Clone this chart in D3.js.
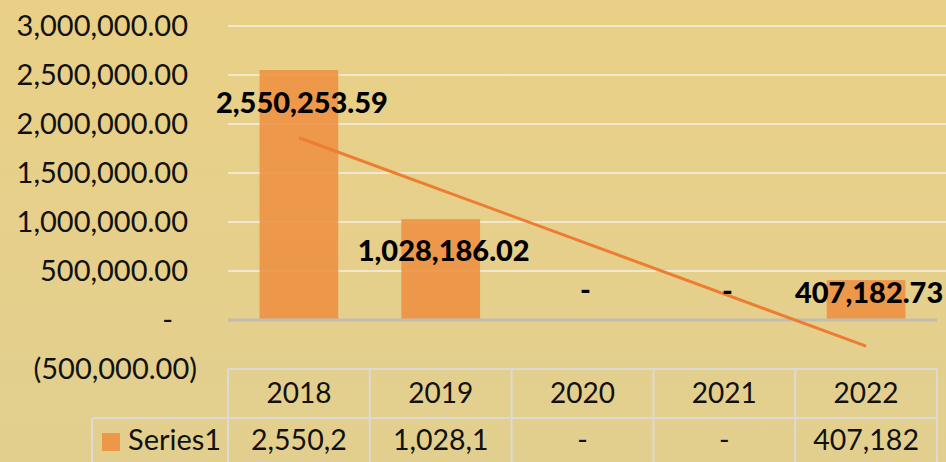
<!DOCTYPE html>
<html>
<head>
<meta charset="utf-8">
<script src="https://cdn.jsdelivr.net/npm/d3@7"></script>
<style>
  html, body { margin: 0; padding: 0; }
  svg { display: block; font-family: "Lato", "Open Sans", sans-serif; }
</style>
</head>
<body>
<svg id="chart" width="946" height="462"></svg>
<script>
// Yearly values, one bar per year, plus an Excel-style linear trendline.
const years      = ["2018", "2019", "2020", "2021", "2022"];
const values     = [2550253.59, 1028186.02, 0, 0, 407182.73];
const yTicks     = [-500000, 0, 500000, 1000000, 1500000, 2000000, 2500000, 3000000];
const tableText  = ["2,550,2", "1,028,1", "-", "-", "407,182"];
const seriesName = "Series1";
// hand-placed label offsets (px, from the bar end) as in the source chart
const labelNudge = [33, 32, -30, -29, 13];

const W = 946, H = 462;
const M = { left: 228, right: 937, top: 26, zero: 320 };

const svg = d3.select("#chart");

// background gradient
const defs = svg.append("defs");
const grad = defs.append("linearGradient")
  .attr("id", "bg").attr("x1", 0).attr("y1", 0).attr("x2", 0).attr("y2", 1);
grad.append("stop").attr("offset", "0%").attr("stop-color", "#E9D086");
grad.append("stop").attr("offset", "100%").attr("stop-color", "#E2CF8F");
svg.append("rect").attr("width", W).attr("height", H).attr("fill", "url(#bg)");

const x = d3.scaleBand()
  .domain(years)
  .range([M.left, M.right])
  .paddingInner(0.445)
  .paddingOuter(0.2225);

const y = d3.scaleLinear()
  .domain([-500000, 3000000])
  .range([369, 26]);

// number formats mimicking Excel accounting format
const fmt = d3.format(",.2f");
function tickText(v) {
  if (v === 0) return "-";
  if (v < 0) return "(" + fmt(-v) + ")";
  return fmt(v);
}

// gridlines (positive ticks only; the negative row is hidden by the table)
svg.append("g")
  .selectAll("line")
  .data(yTicks.filter(v => v > 0))
  .join("line")
  .attr("x1", M.left)
  .attr("x2", W)
  .attr("y1", d => y(d))
  .attr("y2", d => y(d))
  .attr("stroke", "#F4F0E4")
  .attr("stroke-width", 1.5);

// y tick labels
svg.append("g")
  .selectAll("text")
  .data(yTicks)
  .join("text")
  .attr("x", d => d < 0 ? 197 : (d === 0 ? 173 : 188))
  .attr("y", d => y(d))
  .attr("dy", "0.35em")
  .attr("text-anchor", "end")
  .attr("font-size", 29)
  .attr("fill", "#111")
  .text(tickText);

// bars
svg.append("g")
  .selectAll("rect")
  .data(values)
  .join("rect")
  .attr("x", (d, i) => x(years[i]))
  .attr("width", x.bandwidth())
  .attr("y", d => y(Math.max(0, d)))
  .attr("height", d => Math.abs(y(d) - y(0)))
  .attr("fill", "#EE9041")
  .attr("fill-opacity", 0.88);

// zero axis
svg.append("line")
  .attr("x1", M.left).attr("x2", M.right)
  .attr("y1", y(0)).attr("y2", y(0))
  .attr("stroke", "#C2BDB0")
  .attr("stroke-width", 3);

// linear trendline (least squares over category index)
const n = values.length;
const xs = d3.range(1, n + 1);
const mx = d3.mean(xs), my = d3.mean(values);
const slope = d3.sum(xs, (v, i) => (v - mx) * (values[i] - my)) / d3.sum(xs, v => (v - mx) ** 2);
const icpt = my - slope * mx;
const trend = [0, n - 1].map(i => [x(years[i]) + x.bandwidth() / 2, y(icpt + slope * xs[i])]);

svg.append("path")
  .attr("d", d3.line()(trend))
  .attr("fill", "none")
  .attr("stroke", "#ED7D31")
  .attr("stroke-width", 3);

// data labels
svg.append("g")
  .selectAll("text")
  .data(values)
  .join("text")
  .attr("x", (d, i) => x(years[i]) + x.bandwidth() / 2 + 3)
  .attr("y", (d, i) => y(d) + labelNudge[i])
  .attr("dy", "0.35em")
  .attr("text-anchor", "middle")
  .attr("font-size", 29)
  .attr("font-weight", "900")
  .attr("fill", "#000")
  .text(d => d === 0 ? "-" : fmt(d));

// data table under the plot
const tTop = 369, tMid = 418, tBot = 465, legendLeft = 92;
const cols = years.map(d => x(d) - x.step() * x.paddingInner() / 2);
cols.push(M.right);
const table = svg.append("g")
  .attr("stroke", "#DCDAD2")
  .attr("stroke-width", 2);

table.append("line").attr("x1", M.left).attr("x2", M.right).attr("y1", tTop).attr("y2", tTop);
table.append("line").attr("x1", legendLeft).attr("x2", M.right).attr("y1", tMid).attr("y2", tMid);
table.append("line").attr("x1", legendLeft).attr("x2", M.right).attr("y1", tBot).attr("y2", tBot);
table.append("line").attr("x1", legendLeft).attr("x2", legendLeft).attr("y1", tMid).attr("y2", tBot);
table.selectAll(".col")
  .data(cols)
  .join("line")
  .attr("class", "col")
  .attr("x1", d => d).attr("x2", d => d)
  .attr("y1", tTop).attr("y2", tBot);

svg.append("g")
  .selectAll("text")
  .data(years)
  .join("text")
  .attr("x", d => x(d) + x.bandwidth() / 2)
  .attr("y", (tTop + tMid) / 2)
  .attr("dy", "0.35em")
  .attr("text-anchor", "middle")
  .attr("font-size", 28)
  .attr("fill", "#111")
  .text(d => d);

svg.append("g")
  .selectAll("text")
  .data(tableText)
  .join("text")
  .attr("x", (d, i) => x(years[i]) + x.bandwidth() / 2)
  .attr("y", 440)
  .attr("dy", "0.35em")
  .attr("text-anchor", "middle")
  .attr("font-size", 28.5)
  .attr("fill", "#111")
  .text(d => d);

// legend key in the table
svg.append("rect")
  .attr("x", 102).attr("y", 433)
  .attr("width", 18).attr("height", 18)
  .attr("fill", "#EE9041")
  .attr("fill-opacity", 0.9);
svg.append("text")
  .attr("x", 128).attr("y", 440)
  .attr("dy", "0.35em")
  .attr("font-size", 29)
  .attr("fill", "#111")
  .text(seriesName);
</script>
</body>
</html>
